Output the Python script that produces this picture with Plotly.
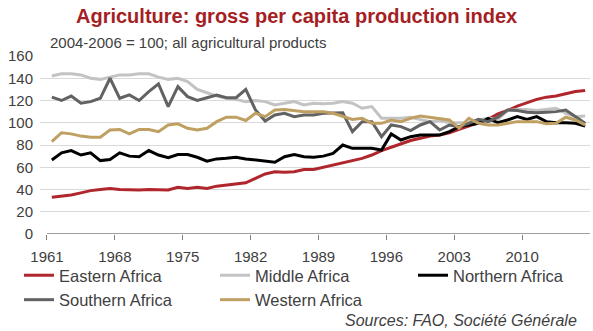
import plotly.graph_objects as go

years = list(range(1961, 2017))

eastern = [33, 34, 35, 37, 39, 40, 41, 40, 39.5, 39.5,
           40, 40, 39.5, 42, 41, 42, 41, 43, 44, 45,
           46, 50, 54, 56, 55.5, 56, 58, 58, 60, 62,
           64, 66, 68, 71, 75, 78, 81, 84, 86, 88,
           89, 91, 94, 97, 100, 103, 108, 111, 115, 118,
           121, 123, 124, 126, 128, 129]
middle = [142, 144, 144, 143, 140, 139, 141, 143, 143, 144,
          144, 141, 139, 140, 137, 130, 127, 124, 122, 121,
          119, 120, 119, 116, 117.5, 119, 116, 117.5, 117, 117.5,
          119, 117.5, 113, 114.5, 104, 104, 104, 105, 103, 101,
          102, 100, 100, 100, 102.5, 104, 103, 111, 112, 112,
          111, 112, 113, 108.5, 105.5, 106]
northern = [66.5, 73, 75, 71, 73, 66, 67, 73, 70, 69.5,
            75, 71, 68.5, 71.5, 71.5, 69, 65.5, 67.5, 68, 69,
            67.5, 66.5, 66, 64.5, 69.5, 71.5, 69.5, 69, 70, 72.5,
            80, 77, 77, 77, 75.5, 90, 84.5, 87.5, 89, 89,
            89, 92, 96.5, 98, 99.5, 104, 100, 102.5, 105.5, 103,
            105.5, 101, 100, 100, 99.5, 97]
southern = [123, 120, 124, 117.5, 119, 122, 140, 122, 125, 120,
            128, 135, 114.5, 132.5, 123.5, 120, 122.5, 125, 122.5, 122.5,
            130, 111.5, 101.5, 107, 108.5, 105.5, 107, 107, 108.5, 108.5,
            109, 92, 101, 101, 87.5, 98, 96.5, 93, 98, 101,
            93.5, 98, 96.5, 99.5, 103, 101, 105, 111.5, 111, 109.5,
            109, 109.5, 110, 111.5, 105.5, 99.5]
western = [83, 91, 90, 88, 87, 87, 93.5, 94, 90, 94,
           94, 92, 98, 99, 95, 93.5, 95, 101, 105, 105,
           102, 108.5, 105.5, 111.5, 112, 111, 110, 110, 110, 108.5,
           105.5, 103, 104, 99.5, 99.5, 102.5, 101, 104, 106, 105,
           104, 102.5, 95, 104, 99.5, 98, 98, 99.5, 101, 101,
           101, 99, 99.5, 105, 102.5, 98]

series_names = ["Eastern Africa", "Middle Africa", "Northern Africa",
                "Southern Africa", "Western Africa"]
series_values = [eastern, middle, northern, southern, western]
series_colors = ["#b0262c", "#c3c3c3", "#000000", "#626262", "#bfa062"]
series_legend = ["legend", "legend2", "legend3", "legend", "legend2"]

tick_years = [1961, 1968, 1975, 1982, 1989, 1996, 2003, 2010]
y_ticks = [0, 20, 40, 60, 80, 100, 120, 140, 160]

FONT = "Arial, Liberation Sans, sans-serif"
TXT = "#404040"

fig = go.Figure()
for name, vals, col, lg in zip(series_names, series_values, series_colors, series_legend):
    fig.add_trace(go.Scatter(x=years, y=vals, name=name, mode="lines",
                             line=dict(color=col, width=3), legend=lg))

W, H = 593, 331
ml, mr, mt, mb = 40, 3, 56, 97


def legend_at(xpix, ypix):
    return dict(orientation="v", xref="container", yref="container",
                x=xpix / W, y=1 - ypix / H, xanchor="left", yanchor="top",
                font=dict(size=16.5, color=TXT, family=FONT), tracegroupgap=0,
                itemwidth=30, bgcolor="rgba(0,0,0,0)", traceorder="normal")


fig.update_layout(
    width=W, height=H,
    margin=dict(l=ml, r=mr, t=mt, b=mb, pad=0, autoexpand=False),
    paper_bgcolor="white", plot_bgcolor="white",
    font=dict(family=FONT, color=TXT, size=15),
    showlegend=True,
    legend=legend_at(19, 258),
    legend2=legend_at(215, 258),
    legend3=legend_at(413, 258),
    xaxis=dict(range=[1959.78, 2016.5], tickmode="array",
               tickvals=[y - 0.5 for y in tick_years],
               ticktext=[str(y) for y in tick_years],
               ticks="outside", ticklen=5, tickcolor="#808080",
               showgrid=False, zeroline=False, showline=False,
               automargin=False, ticklabelstandoff=4,
               tickfont=dict(size=15, color=TXT)),
    yaxis=dict(range=[0, 160], tickmode="array", tickvals=y_ticks,
               showgrid=True, gridcolor="#d9d9d9", gridwidth=1,
               zeroline=False, showline=False, ticks="",
               ticklabelstandoff=6, automargin=False,
               tickfont=dict(size=15, color=TXT)),
)

fig.add_shape(type="line", xref="x", yref="y", x0=1960.5, x1=2016.5, y0=0, y1=0,
              line=dict(color="#808080", width=1.5), layer="above")

pw, ph = W - ml - mr, H - mt - mb


def px(xp):
    return (xp - ml) / pw


def py(yp):
    return (H - mb - yp) / ph


fig.add_annotation(text="<b>Agriculture: gross per capita production index</b>",
                   xref="paper", yref="paper", x=px(296), y=py(16),
                   xanchor="center", yanchor="middle", showarrow=False,
                   font=dict(size=20, color="#a51e24", family=FONT))
fig.add_annotation(text="2004-2006 = 100; all agricultural products",
                   xref="paper", yref="paper", x=px(48), y=py(43),
                   xanchor="left", yanchor="middle", showarrow=False,
                   font=dict(size=15, color=TXT, family=FONT))
fig.add_annotation(text="<i>Sources: FAO, Société Générale</i>",
                   xref="paper", yref="paper", x=px(579), y=py(320),
                   xanchor="right", yanchor="middle", showarrow=False,
                   font=dict(size=16, color=TXT, family=FONT))

fig.write_html("out.html")
